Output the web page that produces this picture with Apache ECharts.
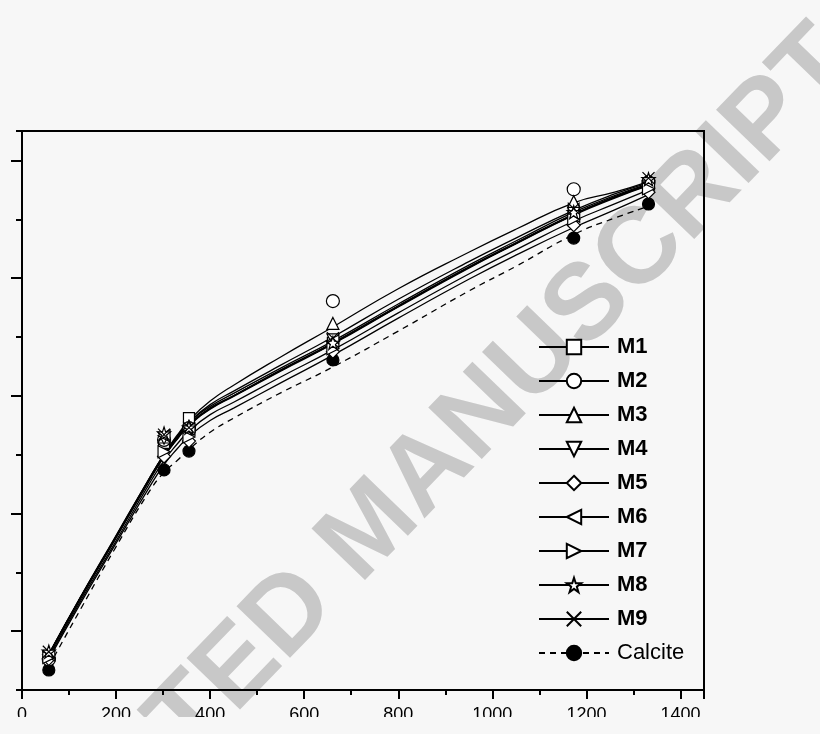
<!DOCTYPE html>
<html><head><meta charset="utf-8">
<script src="https://cdn.jsdelivr.net/npm/echarts@6/dist/echarts.min.js"></script>
<style>html,body{margin:0;padding:0;background:#f7f7f7}#c{width:820px;height:734px}</style>
</head><body><div id="c"></div>
<script>
// ---- data ----
const seriesNames = ['M1', 'M2', 'M3', 'M4', 'M5', 'M6', 'M7', 'M8', 'M9', 'Calcite'];
const pointX = [57, 302, 355, 661, 1173, 1332];
const m1Points = [5.8, 42.0, 46.2, 59.0, 81.5, 86.0];
const m2Points = [5.2, 42.5, 44.5, 66.1, 85.1, 86.3];
const m3Points = [6.0, 43.0, 44.8, 62.3, 83.0, 86.5];
const m4Points = [5.6, 42.8, 44.0, 59.5, 81.0, 85.5];
const m5Points = [5.3, 39.7, 42.3, 57.5, 79.0, 84.6];
const m6Points = [6.0, 43.2, 44.3, 59.3, 80.5, 86.0];
const m7Points = [5.5, 40.5, 43.0, 58.0, 80.0, 85.2];
const m8Points = [6.5, 43.6, 44.6, 59.0, 81.2, 86.8];
const m9Points = [6.5, 43.4, 44.6, 59.8, 81.8, 87.0];
const calcitePoints = [3.4, 37.4, 40.6, 56.1, 76.8, 82.6];

// fitted curves
const fitX = [57, 125, 196, 268, 302, 330, 355, 400, 450, 550, 661, 800, 950, 1050, 1173, 1260, 1332];
const m1Fit = [6.1, 15.9, 25.7, 35.6, 40.0, 43.1, 45.4, 48.2, 50.4, 54.7, 59.3, 65.6, 72.2, 76.3, 81.2, 84.0, 86.0];
const m2Fit = [6.0, 15.8, 25.6, 35.6, 40.1, 43.3, 45.8, 49.1, 51.8, 56.6, 61.7, 68.2, 74.4, 78.3, 82.8, 84.6, 86.4];
const m3Fit = [6.0, 15.8, 25.5, 35.5, 40.0, 43.1, 45.5, 48.5, 50.8, 55.2, 60.0, 66.4, 72.8, 76.8, 81.5, 84.3, 86.2];
const m4Fit = [5.9, 15.6, 25.3, 35.2, 39.6, 42.6, 44.9, 47.7, 49.9, 54.2, 58.8, 65.1, 71.7, 75.8, 80.7, 83.6, 85.7];
const m5Fit = [5.2, 14.8, 24.4, 34.1, 38.3, 41.0, 43.1, 45.8, 47.9, 52.2, 56.9, 63.2, 69.8, 73.9, 78.6, 81.6, 84.2];
const m6Fit = [6.0, 15.7, 25.4, 35.4, 39.8, 42.8, 45.1, 47.9, 50.0, 54.4, 59.0, 65.3, 71.9, 76.0, 80.9, 83.8, 85.9];
const m7Fit = [5.5, 15.2, 24.8, 34.7, 39.0, 41.8, 44.0, 46.8, 48.9, 53.2, 57.8, 64.1, 70.7, 74.8, 79.7, 82.6, 85.0];
const m8Fit = [6.1, 15.8, 25.5, 35.4, 39.8, 42.8, 45.1, 47.9, 50.0, 54.3, 58.9, 65.2, 71.8, 75.9, 80.8, 83.8, 85.9];
const m9Fit = [6.0, 15.7, 25.4, 35.3, 39.7, 42.7, 45.0, 47.8, 50.0, 54.3, 58.9, 65.2, 71.8, 75.9, 80.8, 83.7, 85.8];
const calciteFit = [4.0, 13.8, 23.8, 33.4, 37.0, 39.0, 40.9, 43.8, 46.2, 50.5, 54.9, 61.0, 67.8, 72.0, 77.4, 80.2, 82.2];

const xTicks = { min: 0, max: 1450, interval: 200 };
const yTicks = { min: 0, max: 95, minorInterval: 20, majorValues: [10, 30, 50, 70, 90] };
const watermarkText = 'ACCEPTED MANUSCRIPT';

// ---- styling ----
const allPoints = [m1Points, m2Points, m3Points, m4Points, m5Points, m6Points, m7Points, m8Points, m9Points, calcitePoints];
const allFits = [m1Fit, m2Fit, m3Fit, m4Fit, m5Fit, m6Fit, m7Fit, m8Fit, m9Fit, calciteFit];
const starPath = 'path://M50,2 L61.5,36 L97,36 L68.5,57.5 L79,92 L50,71 L21,92 L31.5,57.5 L3,36 L38.5,36 Z';
const crossPath = 'path://M0,0 L10,10 M10,0 L0,10';
const symbols = ['rect', 'circle', 'triangle', 'triangle', 'diamond', 'triangle', 'triangle', starPath, crossPath, 'circle'];
const rotations = [0, 0, 0, 180, 0, 90, -90, 0, 0, 0];
const sizes = [11, 13, 12, 12, 13, 12, 12, 13, 12, 12];
const FONT = 'Liberation Sans, Arial, sans-serif';

const series = [];
seriesNames.forEach((name, i) => {
  const isCal = name === 'Calcite';
  series.push({
    name: name,
    type: 'line',
    smooth: 0.5,
    showSymbol: false,
    symbol: symbols[i],
    symbolRotate: rotations[i],
    z: 2,
    silent: true,
    lineStyle: { color: '#000', width: 1.3, type: isCal ? [6, 5] : 'solid' },
    itemStyle: { color: isCal ? '#000' : '#fff', borderColor: '#000', borderWidth: 1.2 },
    data: fitX.map((x, k) => [x, allFits[i][k]])
  });
});
seriesNames.forEach((name, i) => {
  const isCal = name === 'Calcite';
  series.push({
    name: name + ' data',
    type: 'scatter',
    symbol: symbols[i],
    symbolRotate: rotations[i],
    symbolSize: sizes[i],
    z: isCal ? 3 : 4,
    silent: true,
    itemStyle: { color: isCal ? '#000' : '#fff', borderColor: '#000', borderWidth: 1.2, opacity: 1 },
    data: pointX.map((x, k) => [x, allPoints[i][k]])
  });
});

const chart = echarts.init(document.getElementById('c'), null, { renderer: 'canvas' });
chart.setOption({
  backgroundColor: '#f7f7f7',
  animation: false,
  grid: { left: 22, right: 116, top: 131, bottom: 44, show: true, borderColor: '#000', borderWidth: 2, backgroundColor: 'transparent' },
  legend: {
    orient: 'vertical',
    left: 538,
    top: 336,
    padding: 0,
    itemWidth: 70,
    itemHeight: 18,
    itemGap: 12,
    selectedMode: false,
    data: seriesNames.map(n => ({
      name: n,
      textStyle: { fontWeight: n === 'Calcite' ? 'normal' : 'bold' }
    })),
    textStyle: { fontSize: 22, fontFamily: FONT, color: '#000', padding: [0, 0, 0, 3] }
  },
  xAxis: {
    type: 'value',
    min: xTicks.min, max: xTicks.max, interval: xTicks.interval,
    axisLine: { show: true, lineStyle: { color: '#000', width: 2 } },
    axisTick: { show: true, length: 9, lineStyle: { color: '#000', width: 2 } },
    minorTick: { show: true, splitNumber: 2, length: 5, lineStyle: { color: '#000', width: 2 } },
    splitLine: { show: false },
    axisLabel: { fontSize: 18, fontFamily: FONT, color: '#000', margin: 16, formatter: v => String(v) }
  },
  yAxis: [{
    type: 'value',
    min: yTicks.min, max: yTicks.max,
    axisLine: { show: true, lineStyle: { color: '#000', width: 2 } },
    axisTick: { show: true, length: 11, customValues: yTicks.majorValues, lineStyle: { color: '#000', width: 2 } },
    axisLabel: { show: false },
    splitLine: { show: false }
  }, {
    type: 'value',
    position: 'left',
    min: yTicks.min, max: yTicks.max, interval: yTicks.minorInterval,
    axisLine: { show: false },
    axisTick: { show: true, length: 6, lineStyle: { color: '#000', width: 2 } },
    axisLabel: { show: false },
    splitLine: { show: false }
  }],
  graphic: [
    {
      type: 'text',
      x: 372, y: 530,
      rotation: 46 * Math.PI / 180,
      z: -10,
      silent: true,
      style: {
        text: watermarkText,
        fill: '#c8c8c8',
        font: 'bold 108px ' + FONT,
        align: 'center',
        verticalAlign: 'middle'
      }
    },
    {
      type: 'rect',
      z: 100,
      silent: true,
      shape: { x: 0, y: 717, width: 820, height: 17 },
      style: { fill: '#f7f7f7' }
    }
  ],
  series: series
});
</script>
</body></html>
